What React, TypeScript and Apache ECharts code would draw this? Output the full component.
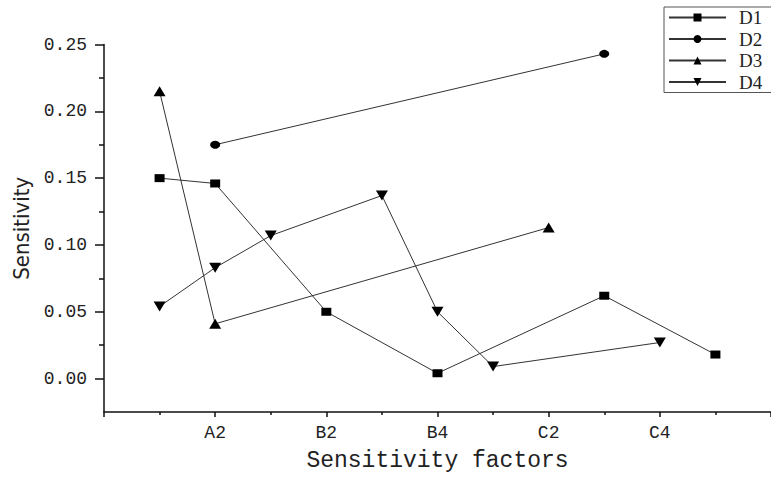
import React, { useEffect, useRef } from "react";
import * as echarts from "echarts";

const categories = ["", "A1", "A2", "B1", "B2", "B3", "B4", "C1", "C2", "C3", "C4", "C5", ""];
const labelledCategories = ["A2", "B2", "B4", "C2", "C4"];
const seriesNames = ["D1", "D2", "D3", "D4"];
const d1 = [null, 0.150, 0.146, null, 0.050, null, 0.004, null, null, 0.062, null, 0.018, null];
const d2 = [null, null, 0.175, null, null, null, null, null, null, 0.243, null, null, null];
const d3 = [null, 0.215, 0.041, null, null, null, null, null, 0.113, null, null, null, null];
const d4 = [null, 0.054, 0.083, 0.107, null, 0.137, 0.050, 0.009, null, null, 0.027, null, null];
const yMajorTicks = [0, 0.05, 0.1, 0.15, 0.2, 0.25];
const yMinorTicks = [0.025, 0.075, 0.125, 0.175, 0.225];

const toPoints = (vals: (number | null)[]) =>
  vals.map((v, i) => (v == null ? null : [i, v])).filter((p) => p !== null);

const monoFont = "'Liberation Mono', 'DejaVu Sans Mono', monospace";

export default function App() {
  const ref = useRef<HTMLDivElement>(null);
  useEffect(() => {
    if (!ref.current) return;
    const chart = echarts.init(ref.current, null, { renderer: "svg" });
    const xMajor = [0, 2, 4, 6, 8, 10, 12];
    const xMinor = [1, 3, 5, 7, 9, 11];
    const labelIdx = labelledCategories.map((c) => categories.indexOf(c));
    const symbols = ["rect", "circle", "triangle", "path://M0,0 L10,0 L5,9 Z"];
    const sizes: any[] = [[10, 8], [10, 8], [12, 10], [12, 10]];
    const all = [d1, d2, d3, d4];
    chart.setOption({
      animation: false,
      backgroundColor: "#ffffff",
      grid: { left: 104, top: 44.5, right: -8, bottom: 60 },
      legend: {
        orient: "vertical",
        left: 664,
        top: 7,
        padding: [1, 40, 1, 4],
        itemWidth: 57,
        itemHeight: 10,
        itemGap: 2.5,
        borderColor: "#555",
        borderWidth: 1,
        textStyle: {
          fontFamily: "'Liberation Serif', 'DejaVu Serif', serif",
          fontSize: 19,
          lineHeight: 18,
          color: "#222",
          padding: [0, 0, 0, 8],
        },
        data: seriesNames,
      },
      xAxis: [
        {
          type: "value",
          min: 0,
          max: 12,
          name: "Sensitivity factors",
          nameLocation: "middle",
          nameGap: 37,
          nameTextStyle: { fontFamily: monoFont, fontSize: 23, color: "#222" },
          axisLine: { show: true, onZero: false, lineStyle: { color: "#111", width: 1.5 } },
          axisTick: { show: true, length: 5, customValues: xMajor, lineStyle: { color: "#111", width: 1.5 } },
          axisLabel: {
            customValues: labelIdx,
            margin: 12,
            fontFamily: monoFont,
            fontSize: 18,
            color: "#222",
            formatter: (v: number) => categories[Math.round(v)] ?? "",
          },
          splitLine: { show: false },
        },
        {
          type: "value",
          min: 0,
          max: 12,
          position: "bottom",
          axisLine: { show: false, onZero: false },
          axisTick: { show: true, length: 3, customValues: xMinor, lineStyle: { color: "#111", width: 1.5 } },
          axisLabel: { show: false },
          splitLine: { show: false },
        },
      ],
      yAxis: [
        {
          type: "value",
          min: -0.025,
          max: 0.25,
          name: "Sensitivity",
          nameLocation: "middle",
          nameGap: 72,
          nameRotate: 90,
          nameTextStyle: {
            fontFamily: "'Liberation Sans Narrow', 'DejaVu Sans Condensed', 'Liberation Sans', sans-serif",
            fontSize: 22,
            color: "#222",
          },
          axisLine: { show: true, onZero: false, lineStyle: { color: "#111", width: 1.5 } },
          axisTick: { show: true, length: 9, customValues: yMajorTicks, lineStyle: { color: "#111", width: 1.5 } },
          axisLabel: {
            customValues: yMajorTicks,
            margin: 17,
            fontFamily: monoFont,
            fontSize: 18,
            color: "#222",
            formatter: (v: number) => v.toFixed(2),
          },
          splitLine: { show: false },
        },
        {
          type: "value",
          min: -0.025,
          max: 0.25,
          position: "left",
          axisLine: { show: false, onZero: false },
          axisTick: { show: true, length: 5, customValues: yMinorTicks, lineStyle: { color: "#111", width: 1.5 } },
          axisLabel: { show: false },
          splitLine: { show: false },
        },
      ],
      series: seriesNames.map((name, k) => ({
        name,
        type: "line",
        xAxisIndex: 0,
        yAxisIndex: 0,
        data: toPoints(all[k]),
        connectNulls: true,
        symbol: symbols[k],
        symbolSize: sizes[k],
        showAllSymbol: true,
        lineStyle: { color: "#333", width: 1 },
        itemStyle: { color: "#000" },
        emphasis: { disabled: true },
      })),
    });
    return () => chart.dispose();
  }, []);
  return (
    <div
      ref={ref}
      style={{ position: "fixed", left: 0, top: 0, width: 771, height: 477, background: "#fff" }}
    />
  );
}
